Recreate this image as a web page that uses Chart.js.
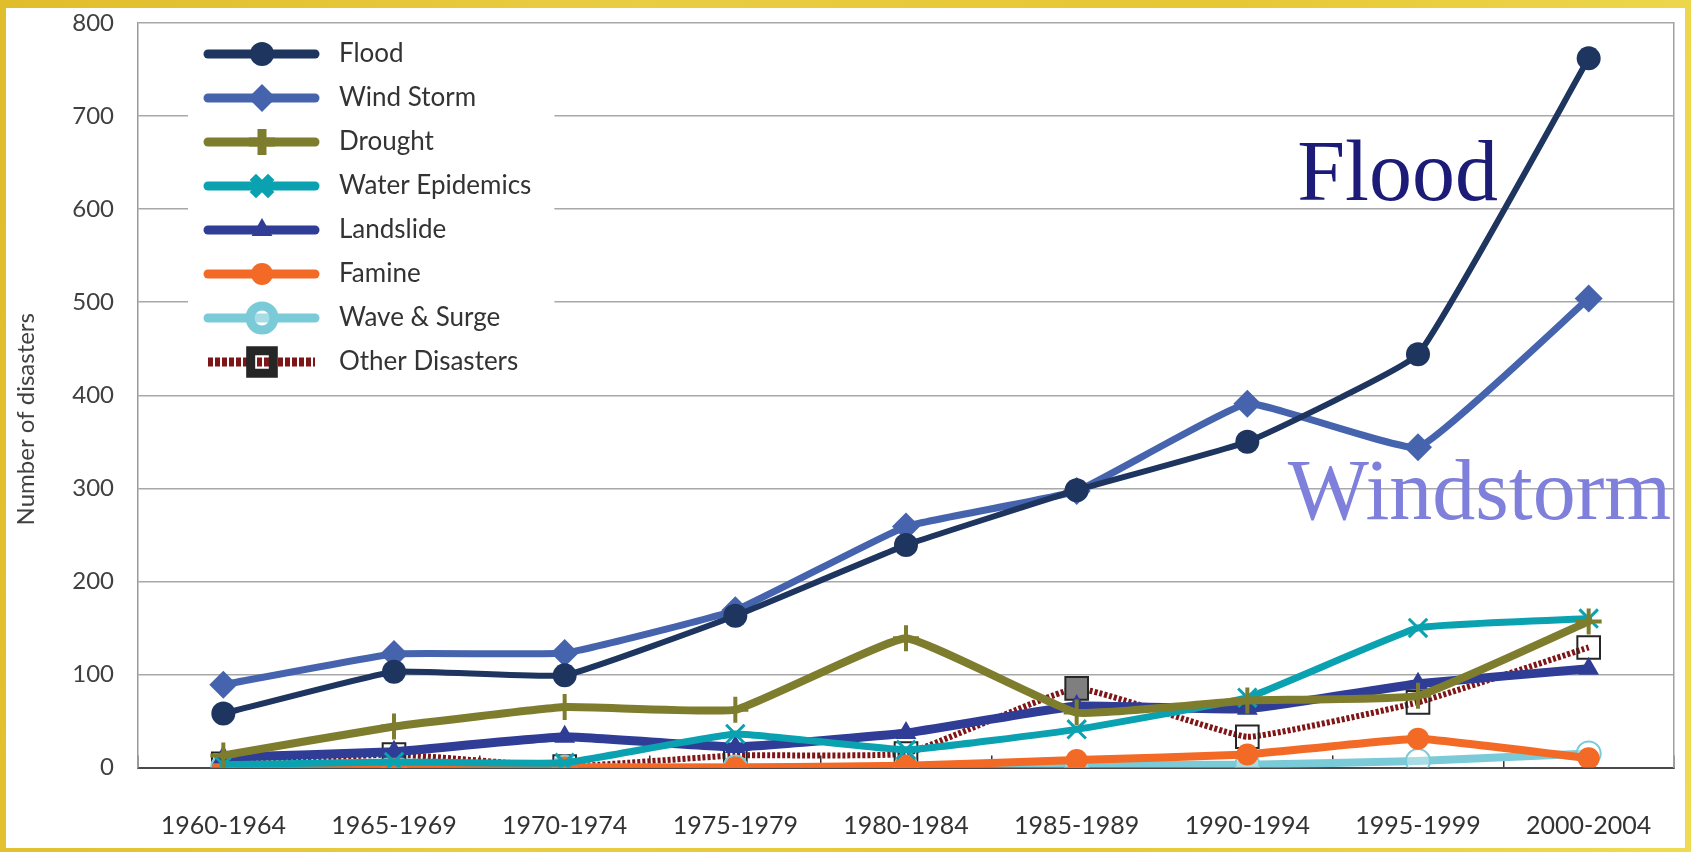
<!DOCTYPE html>
<html>
<head>
<meta charset="utf-8">
<title>Number of disasters</title>
<script src="https://cdn.jsdelivr.net/npm/chart.js@4.4.1/dist/chart.umd.min.js"></script>
<style>
  html, body { margin: 0; padding: 0; }
  body {
    width: 1691px;
    height: 852px;
    overflow: hidden;
    background: linear-gradient(100deg, #e0bd2a 0%, #e9cd42 35%, #e6c734 65%, #efdb52 100%);
  }
  #panel {
    position: absolute;
    left: 6px;
    top: 8px;
    width: 1679px;
    height: 840px;
    background: #fff;
  }
</style>
</head>
<body>
<div id="panel"><canvas id="disasterChart"></canvas></div>
<script>
let periods = ["1960-1964", "1965-1969", "1970-1974", "1975-1979", "1980-1984", "1985-1989", "1990-1994", "1995-1999", "2000-2004"];

let flood = [58, 103, 99, 163, 239, 298, 350, 444, 762];
let windStorm = [89, 122, 123, 169, 259, 297, 391, 344, 504];
let drought = [13, 44, 65, 62, 139, 59, 72, 77, 157];
let waterEpidemics = [3, 6, 5, 36, 19, 41, 75, 150, 160];
let landslide = [11, 17, 33, 22, 37, 66, 63, 90, 106];
let famine = [0, 0, 0, 0, 2, 8, 14, 31, 10];
let waveSurge = [1, 1, 0, 0, 0, 3, 3, 7, 15];
let otherDisasters = [4, 14, 1, 13, 15, 85, 33, 70, 129];

// big labels written over the plot, placed in data units (category index, value)
let annotations = [
  { text: "Flood", x: 6.88, y: 610, color: "#1d1b78" },
  { text: "Windstorm", x: 7.36, y: 267, color: "#7f7fdc" },
];

Chart.defaults.font.family = "Lato, 'Open Sans', sans-serif";
Chart.defaults.color = "#404040";

// the 1985-1989 "other" marker is filled grey in the original
let otherFill = periods.map((p) => (p == "1985-1989" ? "#7f7f7f" : "rgba(0,0,0,0)"));

let datasets = [
  { label: "Flood", data: flood, borderColor: "#1e3560", backgroundColor: "#1e3560", borderWidth: 6, pointStyle: "circle", pointRadius: 12, pointBorderWidth: 0 },
  { label: "Wind Storm", data: windStorm, borderColor: "#4664ae", backgroundColor: "#4664ae", borderWidth: 7, pointStyle: "rectRot", pointRadius: 14, pointBorderWidth: 0 },
  { label: "Drought", data: drought, borderColor: "#7e7d2e", backgroundColor: "#7e7d2e", borderWidth: 8, pointStyle: "cross", pointRadius: 13, pointBorderWidth: 4 },
  { label: "Water Epidemics", data: waterEpidemics, borderColor: "#0aa2b0", backgroundColor: "#0aa2b0", borderWidth: 7, pointStyle: "crossRot", pointRadius: 13, pointBorderWidth: 3 },
  { label: "Landslide", data: landslide, borderColor: "#303d96", backgroundColor: "#303d96", borderWidth: 9, pointStyle: "triangle", pointRadius: 12, pointBorderWidth: 0 },
  { label: "Famine", data: famine, borderColor: "#f26a26", backgroundColor: "#f26a26", borderWidth: 8, pointStyle: "circle", pointRadius: 11, pointBorderWidth: 0 },
  { label: "Wave & Surge", data: waveSurge, borderColor: "#7acbd7", backgroundColor: "rgba(255,255,255,0.35)", borderWidth: 8, pointStyle: "circle", pointRadius: 12, pointBorderWidth: 2 },
  { label: "Other Disasters", data: otherDisasters, borderColor: "#7e1517", backgroundColor: "rgba(0,0,0,0)", borderWidth: 6, borderDash: [3, 2], borderCapStyle: "butt", pointStyle: "rect", pointRadius: 16, pointBorderWidth: 2, pointBorderColor: "#262626", pointBackgroundColor: otherFill },
];

// legend swatch: thick line with the series marker in the middle
function legendSample(ds) {
  let c = document.createElement("canvas");
  c.width = 158;
  c.height = 34;
  let ctx = c.getContext("2d");
  ctx.lineWidth = 9;
  ctx.strokeStyle = ds.borderColor;
  ctx.lineCap = "round";
  if (ds.borderDash) {
    ctx.lineCap = "butt";
    ctx.setLineDash([5, 2]);
  }
  ctx.beginPath();
  ctx.moveTo(46, 17);
  ctx.lineTo(153, 17);
  ctx.stroke();
  ctx.setLineDash([]);
  ctx.lineCap = "butt";
  ctx.fillStyle = ds.backgroundColor;
  ctx.strokeStyle = ds.pointBorderColor || ds.borderColor;
  Chart.helpers.drawPoint(ctx, { pointStyle: ds.pointStyle, radius: ds.pointRadius, borderWidth: ds.pointBorderWidth, rotation: 0 }, 100, 17);
  return c;
}
let samples = datasets.map(legendSample);

// white box behind the legend, hiding the grid lines there
let legendBackground = {
  id: "legendBackground",
  beforeDatasetsDraw(chart) {
    let boxes = chart.legend && chart.legend.legendHitBoxes;
    if (!boxes || !boxes.length) return;
    let ctx = chart.ctx;
    let top = chart.chartArea.top + 1.5;
    let left = boxes[0].left + 32;
    let right = Math.max(...boxes.map((b) => b.left + b.width)) + 23;
    let last = boxes[boxes.length - 1];
    ctx.save();
    ctx.fillStyle = "#fff";
    ctx.fillRect(left, top, right - left, last.top + last.height + 13 - top);
    ctx.restore();
    chart.legend.draw();
  },
};

let annotationText = {
  id: "annotationText",
  afterDatasetsDraw(chart) {
    let ctx = chart.ctx;
    let xs = chart.scales.x;
    let ys = chart.scales.y;
    ctx.save();
    ctx.font = "86px 'Liberation Serif', 'Times New Roman', serif";
    ctx.textAlign = "center";
    ctx.textBaseline = "alphabetic";
    annotations.forEach((a) => {
      ctx.fillStyle = a.color;
      ctx.fillText(a.text, xs.getPixelForValue(a.x), ys.getPixelForValue(a.y));
    });
    ctx.restore();
  },
};

let chart = new Chart(document.querySelector("#disasterChart"), {
  type: "line",
  data: { labels: periods, datasets: datasets },
  plugins: [legendBackground, annotationText],
  options: {
    responsive: true,
    maintainAspectRatio: false,
    animation: false,
    layout: { autoPadding: false, padding: { top: 15, right: 11, bottom: 0, left: 0 } },
    elements: {
      line: { tension: 0.1, borderCapStyle: "round", borderJoinStyle: "round" },
    },
    scales: {
      x: {
        offset: true,
        grid: { display: true, drawOnChartArea: false, drawTicks: true, tickLength: -12, offset: true, color: "#333", lineWidth: 1.5 },
        border: { display: true, color: "#4a4a4a", width: 2 },
        ticks: { padding: 55, font: { size: 25 }, color: "#333", maxRotation: 0, autoSkip: false },
        afterFit: (s) => {
          s.height = 80.5;
          s.paddingLeft = 0;
          s.paddingRight = 0;
        },
      },
      y: {
        min: 0,
        max: 800,
        ticks: { stepSize: 100, padding: 0, font: { size: 24 }, color: "#404040" },
        grid: { color: "#a8a8a8", lineWidth: 1.5, drawTicks: true, tickLength: 24, tickColor: "rgba(0,0,0,0)" },
        border: { color: "#999", width: 1.5 },
        title: { display: true, text: "Number of disasters\u2003\u2003\u2002", font: { size: 24 }, color: "#404040", padding: { top: 6, bottom: 0 } },
        afterFit: (s) => { s.width = 132; },
      },
      y2: {
        position: "right",
        grid: { display: false },
        ticks: { display: false },
        border: { color: "#a0a0a0", width: 1.5 },
        afterFit: (s) => { s.width = 0; },
      },
    },
    plugins: {
      tooltip: { enabled: false },
      legend: {
        position: "chartArea",
        align: "start",
        title: { display: true, text: "", font: { size: 10 }, padding: { top: 3, bottom: 0 } },
        labels: {
          usePointStyle: true,
          pointStyleWidth: 170,
          padding: 18,
          font: { size: 26 },
          color: "#333",
          generateLabels: (chart) =>
            chart.data.datasets.map((ds, i) => ({
              text: ds.label,
              pointStyle: samples[i],
              datasetIndex: i,
              hidden: false,
              lineWidth: 0,
              fontColor: "#333",
            })),
        },
      },
    },
  },
});
</script>
</body>
</html>
